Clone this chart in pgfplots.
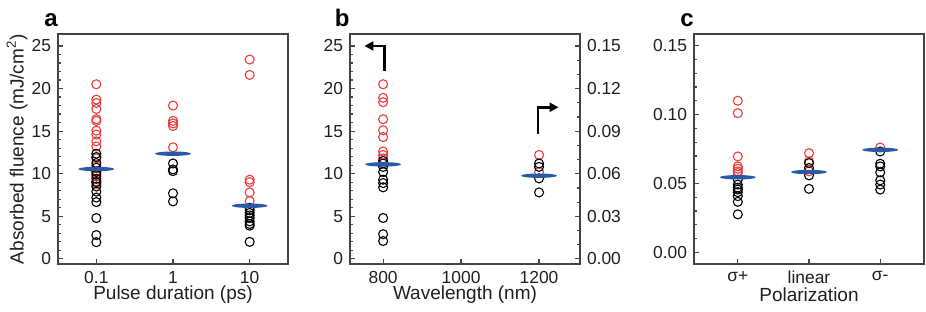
\documentclass[border=0pt]{standalone}
\usepackage{fontspec}
\setmainfont{Liberation Sans}
\usepackage{pgfplots}
\pgfplotsset{compat=1.18}
\usetikzlibrary{arrows.meta}
\definecolor{cred}{RGB}{238,60,60}
\definecolor{cblue}{RGB}{40,90,168}
\definecolor{frame}{RGB}{68,68,68}
\pgfdeclareplotmark{mean}{\pgfpathellipse{\pgfpointorigin}{\pgfqpoint{9pt}{0pt}}{\pgfqpoint{0pt}{1.1pt}}\pgfusepathqfill}
\pgfplotsset{
 base/.style={scale only axis, width=115pt, height=115pt,
   axis line style={frame, line width=0.9pt},
   tick style={frame, line width=0.6pt}, major tick length=2.5pt, minor tick length=1.5pt,
   tick align=inside,
   ticklabel style={font=\fontsize{8.7}{10}\selectfont, text=black!88},
   label style={font=\fontsize{9.5}{11}\selectfont, text=black!88},
   /pgf/number format/assume math mode=true,
   /pgf/number format/1000 sep={},
   scaled y ticks=false,
   ytick pos=left, xtick pos=bottom, clip=false},
 rpts/.style={only marks, mark=o, mark size=2.25pt, draw=cred, mark options={line width=0.55pt, draw=cred}},
 kpts/.style={only marks, mark=o, mark size=2.25pt, draw=black, mark options={line width=0.55pt, draw=black}},
 avg/.style={only marks, mark=mean, cblue, mark options={fill=cblue, draw=none}},
}
\begin{document}
\begin{tikzpicture}
\useasboundingbox (0,0) rectangle (463pt,-155.5pt);
% ---------- panel a
\begin{axis}[base, at={(29pt,-17pt)}, anchor=north west,
  xmin=-0.5, xmax=2.5, ymin=-0.6, ymax=26.4,
  xtick={0,1,2}, xticklabels={0.1,1,10},
  ytick={0,5,10,15,20,25}, minor y tick num=4,
  xlabel={Pulse duration (ps)},
  ylabel={Absorbed fluence (mJ/cm\textsuperscript{2})},
  xlabel style={at={(axis description cs:0.5,-0.135)}, anchor=center},
  ylabel style={at={(axis description cs:-0.178,0.5)}, anchor=center, rotate=0}]
\addplot[rpts] coordinates {(0,20.5)(0,18.7)(0,18.3)(0,17.6)(0,16.4)(0,16.2)(0,15.06)(0,14.6)(0,13.8)(0,13.2)(0,11.8)(0,11.0)(0,10.3)(0,9.7)(0,9.1)(0,8.8)
 (1,18.0)(1,16.2)(1,15.9)(1,15.6)(1,13.1)
 (2,23.4)(2,21.6)(2,9.3)(2,9.0)(2,7.8)(2,6.8)};
\addplot[kpts] coordinates {(0,12.35)(0,11.96)(0,11.25)(0,10.7)(0,10.2)(0,9.9)(0,9.4)(0,9.0)(0,8.5)(0,7.9)(0,7.2)(0,6.67)(0,4.8)(0,2.8)(0,1.96)
 (1,11.2)(1,10.5)(1,10.3)(1,7.7)(1,6.75)
 (2,6.0)(2,5.7)(2,5.4)(2,5.1)(2,4.8)(2,4.4)(2,4.1)(2,3.9)(2,2.0)};
\addplot[avg] coordinates {(0,10.55)(1,12.35)(2,6.24)};
\node[anchor=base east, font=\bfseries\fontsize{12}{14}\selectfont, yshift=4pt, inner sep=0pt] at (rel axis cs:0,1) {a};
\end{axis}
% ---------- panel b (left)
\begin{axis}[base, at={(175pt,-17pt)}, anchor=north west,
  xmin=715, xmax=1305, ymin=-0.6, ymax=26.4,
  xtick={800,1000,1200},
  ytick={0,5,10,15,20,25}, minor y tick num=4,
  xlabel={Wavelength (nm)},
  xlabel style={at={(axis description cs:0.5,-0.135)}, anchor=center}]
\addplot[rpts] coordinates {(800,20.5)(800,18.9)(800,18.4)(800,16.4)(800,15.1)(800,14.3)(800,12.6)(800,12.2)(800,11.8)};
\addplot[kpts] coordinates {(800,11.5)(800,11.2)(800,10.8)(800,10.2)(800,9.3)(800,8.9)(800,8.4)(800,4.8)(800,2.9)(800,2.1)};
\addplot[avg] coordinates {(800,11.1)};
\draw[line width=1.3pt, miter limit=10, -{Triangle[length=4.5pt,width=4.5pt]}] (axis cs:803,22.1) -- (axis cs:803,25) -- (axis cs:752,25);
\draw[line width=1.3pt, miter limit=10, -{Triangle[length=4.5pt,width=4.5pt]}] (axis cs:1197,14.7) -- (axis cs:1197,17.8) -- (axis cs:1250,17.8);
\node[anchor=base east, font=\bfseries\fontsize{12}{14}\selectfont, yshift=4pt, inner sep=0pt] at (rel axis cs:0,1) {b};
\end{axis}
% ---------- panel b (right)
\begin{axis}[base, at={(175pt,-17pt)}, anchor=north west,
  xmin=715, xmax=1305, ymin=-0.0036, ymax=0.1584,
  hide x axis, ytick pos=right, yticklabel pos=right,
  ytick={0,0.03,0.06,0.09,0.12,0.15}, minor y tick num=2,
  yticklabel style={/pgf/number format/.cd, fixed, fixed zerofill, precision=2}]
\addplot[rpts] coordinates {(1200,0.0732)(1200,0.0612)};
\addplot[kpts] coordinates {(1200,0.0672)(1200,0.0648)(1200,0.0567)(1200,0.0468)};
\addplot[avg] coordinates {(1200,0.0586)};
\end{axis}
% ---------- panel c
\begin{axis}[base, at={(347pt,-17pt)}, anchor=north west,
  xmin=-0.615, xmax=2.615, ymin=-0.0084, ymax=0.1584,
  xtick={0,1,2}, xticklabels={σ+,linear,σ-},
  ytick={0,0.05,0.10,0.15}, minor y tick num=4,
  yticklabel style={/pgf/number format/.cd, fixed, fixed zerofill, precision=2},
  xlabel={Polarization},
  xlabel style={at={(axis description cs:0.5,-0.135)}, anchor=center}]
\addplot[rpts] coordinates {(0,0.110)(0,0.101)(0,0.0696)(0,0.0624)(0,0.0607)(0,0.0588)(0,0.0576)
 (1,0.072)(1,0.066)(1,0.0588)
 (2,0.0761)};
\addplot[kpts] coordinates {(0,0.0528)(0,0.0492)(0,0.047)(0,0.0456)(0,0.0437)(0,0.0408)(0,0.0367)(0,0.0276)
 (1,0.0648)(1,0.0612)(1,0.0559)(1,0.0461)
 (2,0.0732)(2,0.0643)(2,0.0624)(2,0.0581)(2,0.0523)(2,0.0492)(2,0.0456)};
\addplot[avg] coordinates {(0,0.0545)(1,0.0583)(2,0.0744)};
\node[anchor=base east, font=\bfseries\fontsize{12}{14}\selectfont, yshift=4pt, inner sep=0pt] at (rel axis cs:0,1) {c};
\end{axis}
\end{tikzpicture}
\end{document}
